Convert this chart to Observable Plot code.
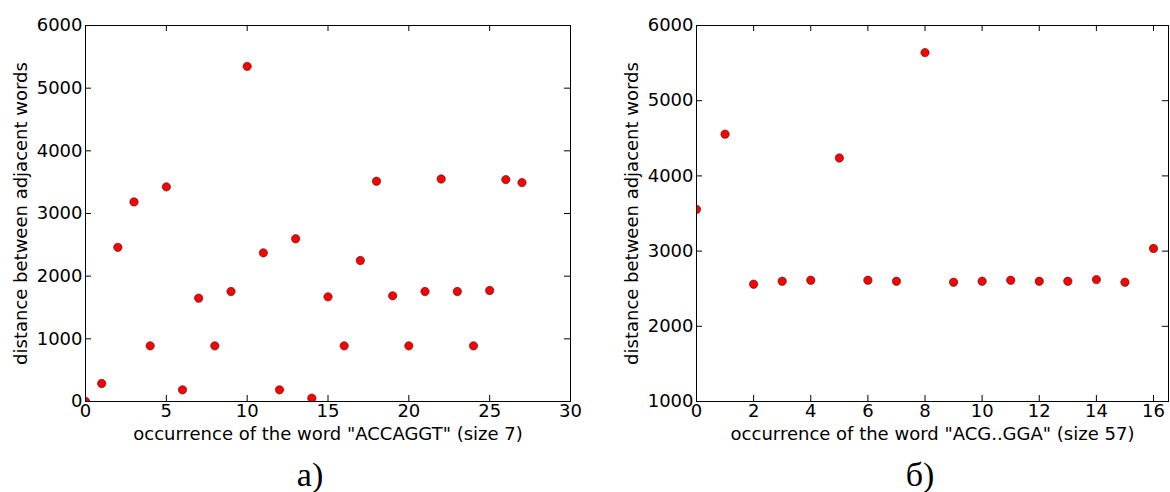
<!DOCTYPE html>
<html>
<head>
<meta charset="utf-8">
<script src="https://cdn.jsdelivr.net/npm/d3@7"></script>
<script src="https://cdn.jsdelivr.net/npm/@observablehq/plot@0.6"></script>
<style>
  html, body { margin: 0; padding: 0; background: #fff; }
  #wrap { position: relative; width: 1170px; height: 492px; overflow: hidden; font-family: "DejaVu Sans", sans-serif; }
  .panel { position: absolute; top: 0; }
  .cap { position: absolute; top: 456px; font-family: "Liberation Serif", "DejaVu Serif", serif; font-size: 34px; color: #000; transform: translateX(-50%); }
</style>
</head>
<body>
<div id="wrap">
  <div id="pa" class="panel" style="left:0px"></div>
  <div id="pb" class="panel" style="left:590px"></div>
  <div class="cap" style="left:310px">a)</div>
  <div class="cap" style="left:920px">б)</div>
</div>
<script>
// Panel a) data
const occA = [0,1,2,3,4,5,6,7,8,9,10,11,12,13,14,15,16,17,18,19,20,21,22,23,24,25,26,27];
const distA = [0, 287, 2460, 3185, 888, 3425, 186, 1649, 888, 1755, 5348, 2372, 186, 2596, 53, 1670, 888, 2250, 3515, 1686, 888, 1755, 3551, 1755, 888, 1771, 3541, 3493];
const xTicksA = [0, 5, 10, 15, 20, 25, 30];
const yTicksA = [0, 1000, 2000, 3000, 4000, 5000, 6000];
const xLabelA = 'occurrence of the word "ACCAGGT" (size 7)';

// Panel б) data
const occB = [0,1,2,3,4,5,6,7,8,9,10,11,12,13,14,15,16];
const distB = [3555, 4555, 2560, 2599, 2612, 4238, 2612, 2599, 5639, 2586, 2599, 2612, 2599, 2599, 2621, 2586, 3035];
const xTicksB = [0, 2, 4, 6, 8, 10, 12, 14, 16];
const yTicksB = [1000, 2000, 3000, 4000, 5000, 6000];
const xLabelB = 'occurrence of the word "ACG..GGA" (size 57)';

const yLabel = "distance between adjacent words";

function panel({occ, dist, xDomain, yDomain, xTicks, yTicks, xLabel, width, marginLeft, marginRight}) {
  const height = 450, marginTop = 25, marginBottom = 49;
  const ph = height - marginTop - marginBottom;
  const pw = width - marginLeft - marginRight;
  const T = 6;
  const data = occ.map((x, i) => ({x, y: dist[i]}));
  return Plot.plot({
    width, height, marginTop, marginBottom, marginLeft, marginRight,
    style: {fontFamily: "DejaVu Sans, sans-serif", color: "#000", background: "#fff"},
    x: {domain: xDomain},
    y: {domain: yDomain},
    marks: [
      Plot.tickX(xTicks, {x: d => d, insetTop: ph - T, stroke: "#000"}),
      Plot.tickX(xTicks, {x: d => d, insetBottom: ph - T, stroke: "#000"}),
      Plot.tickY(yTicks, {y: d => d, insetRight: pw - T, stroke: "#000"}),
      Plot.tickY(yTicks, {y: d => d, insetLeft: pw - T, stroke: "#000"}),
      Plot.dot(data, {x: "x", y: "y", r: 4.2, fill: "#ff0000", stroke: "#222", strokeWidth: 0.6, clip: true}),
      Plot.frame({stroke: "#000", strokeWidth: 1}),
      Plot.axisX({ticks: xTicks, tickSize: 0, tickPadding: 3, fontSize: 18, tickFormat: d => String(d), label: null}),
      Plot.axisY({ticks: yTicks, tickSize: 0, tickPadding: 3, fontSize: 18, tickFormat: d => String(d), label: null}),
      Plot.text([xLabel], {text: d => d, frameAnchor: "bottom", dy: 33, textAnchor: "middle", lineAnchor: "middle", fontSize: 18, fill: "#000"}),
      Plot.text([yLabel], {text: d => d, frameAnchor: "left", dx: -64, rotate: -90, textAnchor: "middle", lineAnchor: "middle", fontSize: 18, fill: "#000"})
    ]
  });
}

document.getElementById("pa").append(panel({
  occ: occA, dist: distA, xDomain: [0, 30], yDomain: [0, 6000],
  xTicks: xTicksA, yTicks: yTicksA, xLabel: xLabelA,
  width: 590, marginLeft: 85, marginRight: 20
}));
document.getElementById("pb").append(panel({
  occ: occB, dist: distB, xDomain: [0, 16.525], yDomain: [1000, 6000],
  xTicks: xTicksB, yTicks: yTicksB, xLabel: xLabelB,
  width: 580, marginLeft: 106, marginRight: 2
}));
</script>
</body>
</html>
